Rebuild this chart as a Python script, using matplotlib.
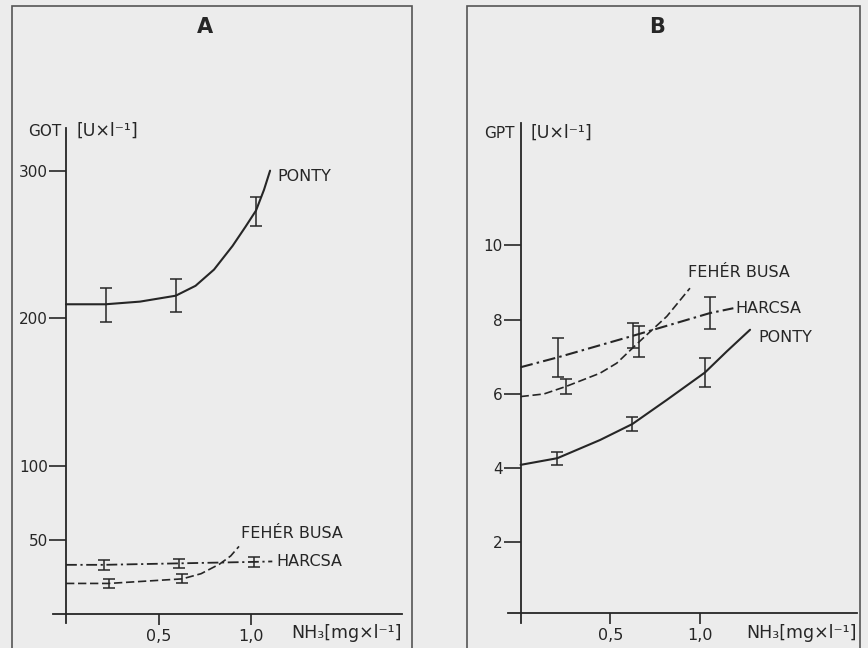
import matplotlib
matplotlib.use('Agg')
import matplotlib.pyplot as plt
from matplotlib.patches import Rectangle

INK = '#262626'
PAPER = '#ececec'

# ---- panel A: GOT ----
a_ponty_x = [0.0, 0.214, 0.4, 0.593, 0.7, 0.8, 0.9, 0.97, 1.027, 1.07, 1.103]
a_ponty_y = [209.5, 209.5, 211.3, 215.3, 222, 233, 249, 262, 273, 287, 300]
a_ponty_px = [0.214, 0.593, 1.027]
a_ponty_py = [209.0, 215.3, 272.2]
a_ponty_err = [11.3, 11.2, 9.9]

a_busa_x = [0.0, 0.231, 0.629, 0.73, 0.83, 0.89, 0.935]
a_busa_y = [20.4, 20.4, 23.5, 27.0, 33.5, 39.0, 45.5]
a_busa_px = [0.231, 0.629]
a_busa_py = [20.4, 23.5]
a_busa_err = [3, 3]

a_harcsa_x = [0.0, 0.204, 0.61, 1.017, 1.115]
a_harcsa_y = [33.0, 33.0, 34.0, 35.0, 35.3]
a_harcsa_px = [0.204, 0.61, 1.017]
a_harcsa_py = [33.0, 34.0, 35.0]
a_harcsa_err = [3.2, 3.2, 3.2]

a_yticks = [50, 100, 200, 300]

# ---- panel B: GPT ----
b_ponty_x = [0.0, 0.205, 0.443, 0.623, 0.815, 1.028, 1.15, 1.279]
b_ponty_y = [4.09, 4.27, 4.76, 5.19, 5.84, 6.58, 7.15, 7.73]
b_ponty_px = [0.205, 0.623, 1.028]
b_ponty_py = [4.27, 5.19, 6.58]
b_ponty_err = [0.18, 0.2, 0.4]

b_busa_x = [0.0, 0.13, 0.252, 0.443, 0.536, 0.662, 0.815, 0.944]
b_busa_y = [5.93, 6.0, 6.2, 6.56, 6.83, 7.41, 8.09, 8.85]
b_busa_px = [0.252, 0.662]
b_busa_py = [6.2, 7.41]
b_busa_err = [0.21, 0.41]

b_harcsa_x = [0.0, 0.21, 0.628, 1.056, 1.186]
b_harcsa_y = [6.72, 6.99, 7.57, 8.18, 8.31]
b_harcsa_px = [0.21, 0.628, 1.056]
b_harcsa_py = [6.99, 7.57, 8.18]
b_harcsa_err = [0.53, 0.33, 0.43]

b_yticks = [2, 4, 6, 8, 10]

xticks = [0.5, 1.0]
xticklabels = ['0,5', '1,0']

W, H = 868, 648
fig = plt.figure(figsize=(W / 100, H / 100), dpi=100, facecolor=PAPER)


def box(x0, y0, x1, y1):
    # pixel box (top-left origin) -> figure fraction
    return [x0 / W, (H - y1) / H, (x1 - x0) / W, (y1 - y0) / H]


# page frames around each figure
for fx0, fx1 in [(12, 412), (467, 860)]:
    fig.patches.append(Rectangle((fx0 / W, -0.05), (fx1 - fx0) / W, (H - 6) / H + 0.05,
                                 transform=fig.transFigure, fill=False,
                                 edgecolor='#555555', lw=1.2))

dash = (0, (5, 2.2))
dashdot = (0, (6, 2, 1.2, 2))


def panel(ax, series, yticks, xaxis_at, labels):
    ax.set_facecolor(PAPER)
    for s in ['top', 'right']:
        ax.spines[s].set_visible(False)
    ax.spines['left'].set_position(('data', 0))
    ax.spines['bottom'].set_position(('data', xaxis_at))
    for s in ['left', 'bottom']:
        ax.spines[s].set_color(INK)
        ax.spines[s].set_linewidth(1.3)

    for cx, cy, px, py, err, ls, lw in series:
        ax.plot(cx, cy, color=INK, ls=ls, lw=lw, solid_capstyle='round')
        ax.errorbar(px, py, yerr=err, fmt='none', ecolor=INK, elinewidth=1.1,
                    capsize=4.5, capthick=1.1)

    ax.set_yticks(yticks)
    ax.set_yticklabels([str(t) for t in yticks])
    ax.set_xticks(xticks)
    ax.set_xticklabels(xticklabels)
    ax.tick_params(axis='y', direction='out', length=12, width=1.2, pad=1,
                   colors=INK, labelsize=11)
    ax.tick_params(axis='x', direction='out', length=8, width=1.2, pad=3,
                   colors=INK, labelsize=11.5)

    for txt, x, y in labels:
        ax.text(x, y, txt, ha='left', va='center', fontsize=11.5, color=INK)


# panel A
axA = fig.add_axes(box(53, 128, 402, 623))
axA.set_xlim(-0.0703, 1.816)
axA.set_ylim(-6.4, 328.9)
panel(axA,
      [(a_ponty_x, a_ponty_y, a_ponty_px, a_ponty_py, a_ponty_err, '-', 1.5),
       (a_busa_x, a_busa_y, a_busa_px, a_busa_py, a_busa_err, dash, 1.2),
       (a_harcsa_x, a_harcsa_y, a_harcsa_px, a_harcsa_py, a_harcsa_err, dashdot, 1.3)],
      a_yticks, 0,
      [('PONTY', 1.143, 296), ('FEHÉR BUSA', 0.946, 54), ('HARCSA', 1.139, 35)])

# panel B
axB = fig.add_axes(box(508, 123, 857, 623))
axB.set_xlim(-0.07, 1.875)
axB.set_ylim(-0.17, 13.3)
panel(axB,
      [(b_ponty_x, b_ponty_y, b_ponty_px, b_ponty_py, b_ponty_err, '-', 1.5),
       (b_busa_x, b_busa_y, b_busa_px, b_busa_py, b_busa_err, dash, 1.2),
       (b_harcsa_x, b_harcsa_y, b_harcsa_px, b_harcsa_py, b_harcsa_err, dashdot, 1.5)],
      b_yticks, 0.1,
      [('FEHÉR BUSA', 0.935, 9.26), ('HARCSA', 1.195, 8.31), ('PONTY', 1.325, 7.53)])

# axis names and panel letters
fig.text(28 / W, 1 - 131 / H, 'GOT', fontsize=11, color=INK, va='center')
fig.text(77 / W, 1 - 131 / H, '[U×l⁻¹]', fontsize=12.5, color=INK, va='center')
fig.text(484 / W, 1 - 133 / H, 'GPT', fontsize=11, color=INK, va='center')
fig.text(531 / W, 1 - 133 / H, '[U×l⁻¹]', fontsize=12.5, color=INK, va='center')
fig.text(402 / W, 1 - 633 / H, 'NH₃[mg×l⁻¹]', fontsize=12.5, color=INK, ha='right', va='center')
fig.text(857 / W, 1 - 633 / H, 'NH₃[mg×l⁻¹]', fontsize=12.5, color=INK, ha='right', va='center')
fig.text(205 / W, 1 - 27 / H, 'A', fontsize=15, color=INK, ha='center', va='center',
         fontweight='bold')
fig.text(657 / W, 1 - 27 / H, 'B', fontsize=15, color=INK, ha='center', va='center',
         fontweight='bold')

fig.savefig('out.png', dpi=100, facecolor=PAPER)
